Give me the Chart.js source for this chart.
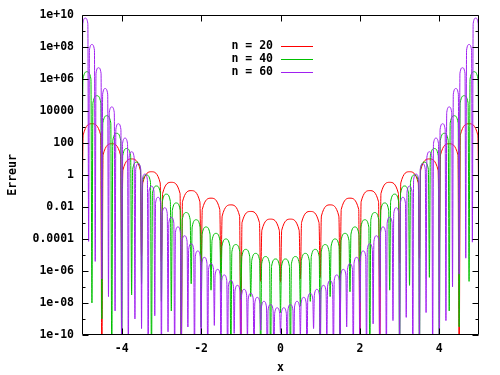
<!DOCTYPE html>
<html>
<head>
<meta charset="utf-8">
<title>Erreur d'interpolation</title>
<script src="https://cdn.jsdelivr.net/npm/chart.js@4.4.1/dist/chart.umd.min.js"></script>
<style>
  html, body { margin: 0; padding: 0; background: #fff; }
</style>
</head>
<body>
<canvas id="myChart" width="500" height="375"></canvas>
<script>
var nodes20 = [-5, -4.5, -4, -3.5, -3, -2.5, -2, -1.5, -1, -0.5, 0, 0.5, 1, 1.5, 2, 2.5, 3, 3.5, 4, 4.5, 5];
var peakExp20 = [3.2, 1.95, 1.0, 0.2, -0.46, -0.98, -1.45, -1.87, -2.28, -2.76,
                 -2.76, -2.28, -1.87, -1.45, -0.98, -0.46, 0.2, 1.0, 1.95, 3.2];
var footExp20 = [2.5, 1.25, 0.3, -0.5, -1.16, -1.68, -2.15, -2.57, -2.98, -3.46,
                 -3.46, -2.98, -2.57, -2.15, -1.68, -1.16, -0.5, 0.3, 1.25, 2.5];
var dipExp20 = [-3.5, -12, -4.7, -5.1, -5.4, -12, -5.9, -6.1, -12, -6.65, -6.7,
                -6.5, -6.4, -6.65, -12, -12, -5.5, -5.2, -4.7, -12, -3.5];

var nodes40 = [-5, -4.75, -4.5, -4.25, -4, -3.75, -3.5, -3.25, -3, -2.75, -2.5, -2.25, -2, -1.75, -1.5, -1.25, -1, -0.75, -0.5, -0.25,
               0, 0.25, 0.5, 0.75, 1, 1.25, 1.5, 1.75, 2, 2.25, 2.5, 2.75, 3, 3.25, 3.5, 3.75, 4, 4.25, 4.5, 4.75, 5];
var peakExp40 = [6.45, 4.95, 3.7, 2.6, 1.65, 0.8, 0.0, -0.69, -1.2, -1.75, -2.35, -2.8, -3.25, -3.65, -4.0, -4.35, -4.65, -4.9, -5.1, -5.25,
                 -5.25, -5.1, -4.9, -4.65, -4.35, -4.0, -3.65, -3.25, -2.8, -2.35, -1.75, -1.2, -0.69, 0.0, 0.8, 1.65, 2.6, 3.7, 4.95, 6.45];
var footExp40 = [6.0, 4.5, 3.25, 2.15, 1.2, 0.35, -0.45, -1.14, -1.65, -2.2, -2.8, -3.25, -3.7, -4.1, -4.45, -4.8, -5.1, -5.35, -5.55, -5.7,
                 -5.7, -5.55, -5.35, -5.1, -4.8, -4.45, -4.1, -3.7, -3.25, -2.8, -2.2, -1.65, -1.14, -0.45, 0.35, 1.2, 2.15, 3.25, 4.5, 6.0];
var dipExp40 = [-1.0, -8.0, -9.0, -12, -12, -7.5, -6.8, -12, -7.9, -8.5, -12, -6.8, -9.5, -7.2, -7.3, -12, -7.8, -7.6, -12, -12,
                -8.6, -12, -8.2, -7.9, -12, -7.6, -12, -7.3, -8.0, -12, -7.0, -7.2, -12, -6.9, -12, -6.4, -12, -8.5, -9.5, -6.65, -1.0];

var nodes60 = [-5, -4.833, -4.667, -4.5, -4.333, -4.167, -4, -3.833, -3.667, -3.5, -3.333, -3.167, -3, -2.833, -2.667,
               -2.5, -2.333, -2.167, -2, -1.833, -1.667, -1.5, -1.333, -1.167, -1, -0.833, -0.667, -0.5, -0.333, -0.167,
               0, 0.167, 0.333, 0.5, 0.667, 0.833, 1, 1.167, 1.333, 1.5, 1.667, 1.833, 2, 2.167, 2.333,
               2.5, 2.667, 2.833, 3, 3.167, 3.333, 3.5, 3.667, 3.833, 4, 4.167, 4.333, 4.5, 4.667, 4.833, 5];
var peakExp60 = [9.8, 8.15, 6.7, 5.4, 4.25, 3.2, 2.3, 1.45, 0.7, 0.05, -0.7, -1.4, -2.05, -2.65, -3.25,
                 -3.8, -4.3, -4.75, -5.15, -5.55, -5.9, -6.25, -6.6, -6.9, -7.15, -7.4, -7.65, -7.9, -8.1, -8.3,
                 -8.3, -8.1, -7.9, -7.65, -7.4, -7.15, -6.9, -6.6, -6.25, -5.9, -5.55, -5.15, -4.75, -4.3, -3.8,
                 -3.25, -2.65, -2.05, -1.4, -0.7, 0.05, 0.7, 1.45, 2.3, 3.2, 4.25, 5.4, 6.7, 8.15, 9.8];
var footExp60 = [9.45, 7.8, 6.35, 5.05, 3.9, 2.85, 1.95, 1.1, 0.35, -0.3, -1.05, -1.75, -2.4, -3.0, -3.6,
                 -4.15, -4.65, -5.1, -5.5, -5.9, -6.25, -6.6, -6.95, -7.25, -7.5, -7.75, -8.0, -8.25, -8.45, -8.65,
                 -8.65, -8.45, -8.25, -8.0, -7.75, -7.5, -7.25, -6.95, -6.6, -6.25, -5.9, -5.5, -5.1, -4.65, -4.15,
                 -3.6, -3.0, -2.4, -1.75, -1.05, -0.3, 0.35, 1.1, 1.95, 2.85, 3.9, 5.05, 6.35, 7.8, 9.45];
var dipExp60 = [0.0, -4.15, -5.4, -6.5, -7.6, -8.5, -12, -12, -9.0, -9.6,
                -12, -8.8, -12, -9.8, -12, -12, -9.5, -12, -10.2, -12,
                -9.4, -12, -12, -9.9, -12, -10.3, -12, -9.7, -12, -12,
                -9.9, -12, -12, -10.1, -12, -9.6, -12, -10.4, -12, -12,
                -9.5, -12, -10.0, -12, -9.3, -12, -12, -9.1, -12, -8.9,
                -12, -12, -8.6, -12, -12, -9.1, -7.0, -6.2, -5.2, -4.2,
                0.0];

var seriesLabels = ['n = 20', 'n = 40', 'n = 60'];
var seriesColors = ['#ff0000', '#00c000', '#a020f0'];

var xTicks = [-4, -2, 0, 2, 4];
var yTickVals = [1e-10, 1e-8, 1e-6, 1e-4, 1e-2, 1, 1e2, 1e4, 1e6, 1e8, 1e10];
var yTickLabels = ['1e-10', '1e-08', '1e-06', '0.0001', '0.01', '1', '100', '10000', '1e+06', '1e+08', '1e+10'];
var yMinorVals = [1e-9, 1e-7, 1e-5, 1e-3, 1e-1, 10, 1e3, 1e5, 1e7, 1e9];

// Construire la courbe : creux au noeud, pied de l'arche, sommet, pied
function buildCurve(nodes, peaks, feet, dips, d) {
  var pts = [];
  for (var i = 0; i < peaks.length; i++) {
    pts.push({ x: nodes[i], y: Math.pow(10, dips[i]) });
    pts.push({ x: nodes[i] + d, y: Math.pow(10, feet[i]) });
    pts.push({ x: (nodes[i] + nodes[i + 1]) / 2, y: Math.pow(10, peaks[i]) });
    pts.push({ x: nodes[i + 1] - d, y: Math.pow(10, feet[i]) });
  }
  var last = nodes.length - 1;
  pts.push({ x: nodes[last], y: Math.pow(10, dips[last]) });
  return pts;
}

var curves = [
  buildCurve(nodes20, peakExp20, footExp20, dipExp20, 0.03),
  buildCurve(nodes40, peakExp40, footExp40, dipExp40, 0.025),
  buildCurve(nodes60, peakExp60, footExp60, dipExp60, 0.02)
];

var font = { family: "'DejaVu Sans Mono', monospace", size: 11.5, weight: 'bold' };

// Cadre, graduations vers l'intérieur et légende façon gnuplot
var gnuplotFrame = {
  id: 'gnuplotFrame',
  afterDatasetsDraw: function(chart) {
    var ctx = chart.ctx;
    var a = chart.chartArea;
    var xs = chart.scales.x, ys = chart.scales.y;
    var L = Math.round(a.left) + 0.5, R = Math.round(a.right) - 0.5;
    var T = Math.round(a.top) + 0.5, B = Math.round(a.bottom) - 0.5;
    ctx.save();
    ctx.strokeStyle = '#000';
    ctx.lineWidth = 1;
    ctx.beginPath();
    ctx.rect(L, T, R - L, B - T);
    yTickVals.forEach(function(v) {
      var p = Math.round(ys.getPixelForValue(v)) + 0.5;
      ctx.moveTo(L, p); ctx.lineTo(L + 6, p);
      ctx.moveTo(R, p); ctx.lineTo(R - 6, p);
    });
    yMinorVals.forEach(function(v) {
      var p = Math.round(ys.getPixelForValue(v)) + 0.5;
      ctx.moveTo(L, p); ctx.lineTo(L + 3, p);
      ctx.moveTo(R, p); ctx.lineTo(R - 3, p);
    });
    xTicks.forEach(function(v) {
      var p = Math.round(xs.getPixelForValue(v)) + 0.5;
      ctx.moveTo(p, B); ctx.lineTo(p, B - 6);
      ctx.moveTo(p, T); ctx.lineTo(p, T + 6);
    });
    ctx.stroke();

    // légende
    ctx.font = 'bold 11.5px "DejaVu Sans Mono", monospace';
    ctx.textAlign = 'right';
    ctx.textBaseline = 'middle';
    ctx.fillStyle = '#000';
    chart.data.datasets.forEach(function(ds, i) {
      var ty = 46 + i * 13;
      ctx.fillText(ds.label, 273, ty);
      ctx.strokeStyle = ds.borderColor;
      ctx.beginPath();
      ctx.moveTo(281, ty + 0.5);
      ctx.lineTo(313, ty + 0.5);
      ctx.stroke();
    });
    ctx.restore();
  }
};

var ctx = document.getElementById('myChart').getContext('2d');
var myChart = new Chart(ctx, {
  type: 'line',
  data: {
    datasets: [0, 1, 2].map(function(i) {
      return {
        label: seriesLabels[i],
        data: curves[i],
        borderColor: seriesColors[i],
        borderWidth: 1,
        pointRadius: 0,
        fill: false,
        cubicInterpolationMode: 'monotone',
        order: 2 - i
      };
    })
  },
  options: {
    responsive: false,
    animation: false,
    devicePixelRatio: 1,
    layout: { padding: { top: 14, right: 21, left: 0, bottom: 0 } },
    plugins: {
      legend: { display: false },
      tooltip: { enabled: false }
    },
    scales: {
      x: {
        type: 'linear',
        min: -5,
        max: 5,
        grid: { display: false, drawTicks: false },
        border: { display: false },
        afterBuildTicks: function(s) { s.ticks = xTicks.map(function(v) { return { value: v }; }); },
        afterFit: function(s) { s.height = 40; },
        ticks: { font: font, color: '#000', padding: 7, maxRotation: 0, autoSkip: false,
                 callback: function(v) { return String(v); } },
        title: { display: true, text: 'x', font: font, color: '#000', padding: 0 }
      },
      y: {
        type: 'logarithmic',
        min: 1e-10,
        max: 1e10,
        grid: { display: false, drawTicks: false },
        border: { display: false },
        afterBuildTicks: function(s) { s.ticks = yTickVals.map(function(v) { return { value: v }; }); },
        afterFit: function(s) { s.width = 82; },
        ticks: { font: font, color: '#000', padding: 8, autoSkip: false,
                 callback: function(v, i) { return yTickLabels[i]; } },
        title: { display: true, text: 'Erreur', font: font, color: '#000', padding: { top: 6, bottom: 0 } }
      }
    }
  },
  plugins: [gnuplotFrame]
});
</script>
</body>
</html>
